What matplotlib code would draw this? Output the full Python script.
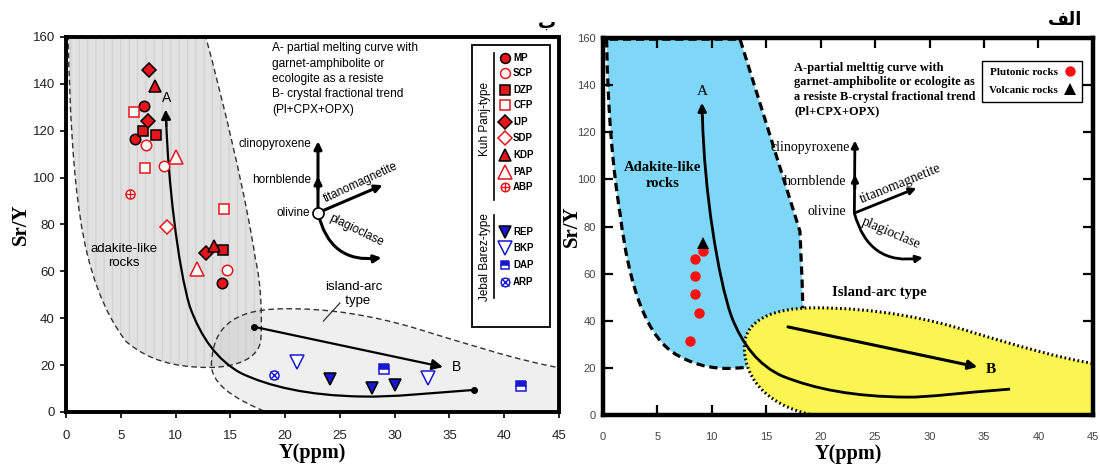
import matplotlib
matplotlib.use("Agg")
import matplotlib.pyplot as plt
from matplotlib.path import Path
from matplotlib.patches import PathPatch, Rectangle
from matplotlib import font_manager

_names = {f.name for f in font_manager.fontManager.ttflist}
NARROW = "Liberation Sans Narrow" if "Liberation Sans Narrow" in _names else "Liberation Sans"
SANS = "Liberation Sans"
SERIF = "Liberation Serif"

# ---------------- data : panel "ب" (Kuh Panj-type and Jebal Barez-type units)
mp_x, mp_y = [7.1, 6.3, 14.2], [130.6, 116.5, 55.0]
scp_x, scp_y = [7.3, 8.9, 14.7], [114.0, 105.0, 60.6]
dzp_x, dzp_y = [7.0, 8.2, 14.3], [120.0, 118.0, 69.0]
cfp_x, cfp_y = [6.2, 7.2, 14.4], [128.0, 104.0, 86.6]
ijp_x, ijp_y = [7.6, 7.5, 12.8], [146.0, 124.0, 68.0]
sdp_x, sdp_y = [9.2], [79.0]
kdp_x, kdp_y = [8.1, 13.5], [139.0, 71.0]
pap_x, pap_y = [10.0, 12.0], [109.0, 61.0]
abp_x, abp_y = [5.8], [93.0]
rep_x, rep_y = [24.1, 27.9, 30.0], [14.1, 10.2, 11.5]
bkp_x, bkp_y = [21.1, 33.0], [21.3, 14.5]
dap_x, dap_y = [29.0, 41.5], [18.3, 11.1]
arp_x, arp_y = [19.0], [15.8]

# ---------------- data : panel "الف"
plutonic_x = [9.2, 8.5, 8.5, 8.5, 8.8, 8.0]
plutonic_y = [69.6, 66.2, 59.0, 51.4, 43.3, 31.4]
volcanic_x = [9.2]
volcanic_y = [73.0]

x_ticks = [0, 5, 10, 15, 20, 25, 30, 35, 40, 45]
y_ticks = [0, 20, 40, 60, 80, 100, 120, 140, 160]

RED = "#e8141c"
BLUE = "#1818d0"

styles = {
    "MP": dict(marker="o", mfc=RED, mec="black", ms=7.5),
    "SCP": dict(marker="o", mfc="white", mec=RED, ms=7.5),
    "DZP": dict(marker="s", mfc=RED, mec="black", ms=7),
    "CFP": dict(marker="s", mfc="white", mec=RED, ms=7),
    "IJP": dict(marker="D", mfc=RED, mec="black", ms=7),
    "SDP": dict(marker="D", mfc="white", mec=RED, ms=7),
    "KDP": dict(marker="^", mfc=RED, mec="black", ms=9),
    "PAP": dict(marker="^", mfc="white", mec=RED, ms=10),
    "ABP": dict(marker="o", mfc="white", mec=RED, ms=6.5, over="+"),
    "REP": dict(marker="v", mfc=BLUE, mec="black", ms=9),
    "BKP": dict(marker="v", mfc="white", mec=BLUE, ms=10),
    "DAP": dict(marker="s", mfc=BLUE, mec=BLUE, ms=6.5, fillstyle="top",
                markerfacecoloralt="white"),
    "ARP": dict(marker="o", mfc="white", mec=BLUE, ms=6.5, over="x"),
}
groups = [("MP", mp_x, mp_y), ("SCP", scp_x, scp_y), ("DZP", dzp_x, dzp_y),
          ("CFP", cfp_x, cfp_y), ("IJP", ijp_x, ijp_y), ("SDP", sdp_x, sdp_y),
          ("KDP", kdp_x, kdp_y), ("PAP", pap_x, pap_y), ("ABP", abp_x, abp_y),
          ("REP", rep_x, rep_y), ("BKP", bkp_x, bkp_y), ("DAP", dap_x, dap_y),
          ("ARP", arp_x, arp_y)]


def draw_marker(ax, xs, ys, key, **kw):
    st = dict(styles[key])
    over = st.pop("over", None)
    ms = st.pop("ms")
    ax.plot(xs, ys, linestyle="none", markersize=ms, markeredgewidth=1.1,
            zorder=6, clip_on=False, **st, **kw)
    if over:
        ax.plot(xs, ys, linestyle="none", marker=over, markersize=ms * 0.95,
                color=st["mec"], markeredgewidth=1.0, zorder=7, clip_on=False, **kw)


def bezier(points):
    verts = [points[0]]
    codes = [Path.MOVETO]
    for p in points[1:]:
        verts.append(p)
        codes.append(Path.CURVE4)
    return verts, codes


fig = plt.figure(figsize=(11, 4.68), dpi=100)
axL = fig.add_axes([0.06, 0.1197, 0.4482, 0.8013])
axR = fig.add_axes([0.548, 0.1132, 0.4455, 0.8056])

# ======================= left panel =======================
ax = axL
ax.set_xlim(0, 45)
ax.set_ylim(0, 160)

# island-arc field
ia = [(18.8, -1), (15, 6), (13, 13), (13.3, 22),
      (13.5, 35), (15, 43.5), (19.5, 44),
      (24, 44.5), (28, 41), (31.7, 36),
      (36, 30), (41, 22), (46, 18)]
v, c = bezier(ia)
fill_v = v + [(46, -1), (18.8, -1)]
fill_c = c + [Path.LINETO, Path.CLOSEPOLY]
ax.add_patch(PathPatch(Path(fill_v, fill_c), facecolor="#efefef", lw=0, zorder=1))
ax.add_patch(PathPatch(Path(v, c), facecolor="none", edgecolor="#333333", lw=1.0,
                       linestyle=(0, (4, 2.5)), zorder=3))

# adakite field
ad = [(0.2, 161), (0.3, 130), (0.7, 100), (1.3, 83),
      (2.0, 60), (3.5, 42), (5.5, 30),
      (7.5, 22), (10, 19), (13, 19),
      (16, 19), (17.8, 24), (17.8, 32),
      (17.9, 42), (17.8, 55), (17.3, 65),
      (16.5, 90), (14.5, 130), (12.7, 161)]
v, c = bezier(ad)
ax.add_patch(PathPatch(Path(v + [(0.2, 161)], c + [Path.CLOSEPOLY]),
                       facecolor="#c4c4c4", alpha=0.5, lw=0, zorder=2))
ax.add_patch(PathPatch(Path(v + [(0.2, 161)], c + [Path.CLOSEPOLY]),
                       facecolor="none", edgecolor="#d2d2d2", lw=0, hatch="||", zorder=2))
ax.add_patch(PathPatch(Path(v, c), facecolor="none", edgecolor="#333333", lw=1.0,
                       linestyle=(0, (4, 2.5)), zorder=3))

# partial melting curve A
curveA = [(37.2, 9.4), (33, 8), (30, 6.3), (27, 6.6),
          (22, 7), (18.5, 11), (16, 16.5),
          (13.8, 22), (12.3, 32), (11.3, 45),
          (10.2, 62), (9.3, 100), (9.15, 124)]
v, c = bezier(curveA)
ax.add_patch(PathPatch(Path(v, c), facecolor="none", edgecolor="black", lw=1.6, zorder=4))
ax.annotate("", xy=(9.1, 129), xytext=(9.15, 122),
            arrowprops=dict(arrowstyle="-|>", color="black", lw=1.6,
                            mutation_scale=14, shrinkA=0, shrinkB=0), zorder=4)
ax.plot([37.2], [9.4], "o", color="black", ms=4, zorder=4)
ax.text(9.2, 134, "A", ha="center", va="center", fontsize=10, family=SANS, zorder=5)

# fractional crystallisation trend B
ax.annotate("", xy=(34.4, 19.2), xytext=(17.2, 36.3),
            arrowprops=dict(arrowstyle="-|>", color="black", lw=1.6,
                            mutation_scale=16, shrinkA=0, shrinkB=0), zorder=4)
ax.plot([17.2], [36.3], "o", color="black", ms=4, zorder=4)
ax.text(35.6, 19.3, "B", ha="center", va="center", fontsize=10, family=SANS)

# samples
for key, xs, ys in groups:
    draw_marker(ax, xs, ys, key)

# field labels
ax.text(5.3, 66.5, "adakite-like\nrocks", ha="center", va="center", fontsize=9.5,
        family=NARROW, linespacing=1.25, zorder=5)
ax.text(26.3, 50.5, "island-arc\n  type", ha="center", va="center", fontsize=9.5,
        family=NARROW, linespacing=1.2)
ax.plot([25.0, 23.5], [46.5, 38.8], color="#333333", lw=0.9)

# explanatory note
ax.text(18.8, 157.8, "A- partial melting curve with\ngarnet-amphibolite or\n"
        "ecologite as a resiste\nB- crystal fractional trend\n(Pl+CPX+OPX)",
        ha="left", va="top", fontsize=8.6, family=NARROW, linespacing=1.38)

# mineral vectors
o = (23.0, 85.0)
arrow_kw = dict(arrowstyle="-|>", color="black", lw=2.2, mutation_scale=11,
                shrinkA=0, shrinkB=0)
ax.annotate("", xy=(23.0, 115.5), xytext=o, arrowprops=arrow_kw, zorder=4)
ax.annotate("", xy=(23.0, 100.5), xytext=(23.0, 95), arrowprops=arrow_kw, zorder=4)
ax.annotate("", xy=(28.9, 96.8), xytext=o, arrowprops=arrow_kw, zorder=4)
ax.annotate("", xy=(28.8, 65.8), xytext=o,
            arrowprops=dict(arrow_kw, connectionstyle="arc3,rad=0.45"), zorder=4)
ax.plot([o[0]], [o[1]], "o", mfc="white", mec="black", ms=8, mew=1.2, zorder=6)
ax.text(22.4, 114.5, "clinopyroxene", ha="right", va="center", fontsize=8.5, family=NARROW)
ax.text(22.4, 98.8, "hornblende", ha="right", va="center", fontsize=8.5, family=NARROW)
ax.text(22.3, 84.9, "olivine", ha="right", va="center", fontsize=8.5, family=NARROW)
ax.text(26.9, 98.0, "titanomagnetite", ha="center", va="center", fontsize=8.5,
        family=NARROW, rotation=25, rotation_mode="anchor")
ax.text(26.5, 77.3, "plagioclase", ha="center", va="center", fontsize=8.5,
        family=NARROW, rotation=-26, rotation_mode="anchor")

# legend box with the two groups
ax.add_patch(Rectangle((0.824, 0.227), 0.158, 0.752, transform=ax.transAxes,
                       facecolor="white", edgecolor="black", lw=1.3, zorder=8))
legend_rows = [0.944, 0.904, 0.859, 0.819, 0.773, 0.731, 0.685, 0.640, 0.600,
               0.480, 0.437, 0.392, 0.347]
for (key, _, _), yy in zip(groups, legend_rows):
    st = dict(styles[key])
    over = st.pop("over", None)
    ms = st.pop("ms")
    ax.plot([0.890], [yy], linestyle="none", markersize=ms * 0.95, markeredgewidth=1.1,
            transform=ax.transAxes, zorder=9, clip_on=False, **st)
    if over:
        ax.plot([0.890], [yy], linestyle="none", marker=over, markersize=ms * 0.9,
                color=st["mec"], markeredgewidth=1.0, transform=ax.transAxes,
                zorder=10, clip_on=False)
    ax.text(0.907, yy, key, transform=ax.transAxes, ha="left", va="center",
            fontsize=7, fontweight="bold", family=SANS, zorder=10)
ax.text(0.849, 0.78, "Kuh Panj-type", transform=ax.transAxes, rotation=90,
        ha="center", va="center", fontsize=8.5, family=SANS, zorder=10)
ax.plot([0.868, 0.868], [0.565, 0.957], transform=ax.transAxes, color="black",
        lw=1.2, zorder=10)
ax.text(0.849, 0.413, "Jebal Barez-type", transform=ax.transAxes, rotation=90,
        ha="center", va="center", fontsize=8.5, family=SANS, zorder=10)
ax.plot([0.868, 0.868], [0.305, 0.525], transform=ax.transAxes, color="black",
        lw=1.2, zorder=10)

ax.set_xticks(x_ticks)
ax.set_yticks(y_ticks)
ax.tick_params(direction="out", length=4, width=1.2, labelsize=9.5,
               labelcolor="#222222")
ax.tick_params(axis="x", pad=9)
ax.tick_params(axis="y", pad=4)
for lab in ax.get_xticklabels() + ax.get_yticklabels():
    lab.set_family(SANS)
for s in ax.spines.values():
    s.set_linewidth(2.8)
    s.set_zorder(12)
ax.set_xlabel("Y(ppm)", fontsize=14.5, fontweight="bold", family=SERIF)
ax.set_ylabel("Sr/Y", fontsize=15, fontweight="bold", family=SERIF)
ax.xaxis.set_label_coords(0.5, -0.083)
ax.yaxis.set_label_coords(-0.071, 0.5)

# ======================= right panel =======================
ax = axR
ax.set_xlim(0, 45)
ax.set_ylim(0, 160)

# adakite field (blue)
blue_curve = [(0.35, 159.5), (0.45, 130), (0.9, 105), (1.6, 85),
              (2.4, 55), (4.0, 32), (7.0, 25),
              (9.5, 18.5), (12.0, 19.5), (13.5, 20.5)]
v, c = bezier(blue_curve)
bv = v + [(18.4, 40), (18.3, 57), (18.1, 78), (12.6, 159.5), (0.35, 159.5)]
bc = c + [Path.LINETO] * 4 + [Path.CLOSEPOLY]
ax.add_patch(PathPatch(Path(bv, bc), facecolor="#7fd7f7", edgecolor="black", lw=2.3,
                       linestyle=(0, (2.6, 1.5)), zorder=1))

# island-arc field (yellow)
yel = [(19.8, -0.5), (15.5, 3), (13.0, 14), (13.0, 29),
       (13.0, 40), (15.5, 45.5), (19.5, 45.5),
       (25.0, 45.5), (30.0, 41), (34.0, 35),
       (38.0, 29.5), (42.0, 24), (45.5, 21.5)]
v, c = bezier(yel)
ax.add_patch(PathPatch(Path(v + [(45.5, -0.5), (19.8, -0.5)],
                            c + [Path.LINETO, Path.CLOSEPOLY]),
                       facecolor="#faf550", lw=0, zorder=2))
ax.add_patch(PathPatch(Path(v, c), facecolor="none", edgecolor="black", lw=2.2,
                       linestyle=(0, (0.55, 0.9)), zorder=3))

# partial melting curve A
curveA_r = [(37.4, 11.0), (33, 9.5), (30, 7.5), (27.9, 7.6),
            (23, 7.8), (19.5, 11), (16.5, 16.5),
            (14.3, 21), (12.8, 30), (11.8, 42),
            (10.6, 58), (9.3, 95), (9.15, 127)]
v, c = bezier(curveA_r)
ax.add_patch(PathPatch(Path(v, c), facecolor="none", edgecolor="black", lw=2.0, zorder=4))
ax.annotate("", xy=(9.1, 132.5), xytext=(9.15, 125),
            arrowprops=dict(arrowstyle="-|>", color="black", lw=2.0,
                            mutation_scale=12, shrinkA=0, shrinkB=0), zorder=4)
ax.text(9.1, 137.5, "A", ha="center", va="center", fontsize=11, family=SERIF)

# fractional crystallisation trend B
ax.annotate("", xy=(34.4, 20.4), xytext=(17.0, 37.4),
            arrowprops=dict(arrowstyle="-|>", color="black", lw=2.2,
                            mutation_scale=13, shrinkA=0, shrinkB=0), zorder=4)
ax.text(35.6, 19.5, "B", ha="center", va="center", fontsize=11, fontweight="bold",
        family=SERIF)

# samples
ax.plot(plutonic_x, plutonic_y, "o", color="#ff1010", ms=7.5, mew=0, zorder=6,
        label="Plutonic rocks")
ax.plot(volcanic_x, volcanic_y, "^", color="black", ms=8.5, mew=0, zorder=7,
        label="Volcanic rocks")
leg = ax.legend(loc="upper right", bbox_to_anchor=(0.978, 0.94), markerfirst=False,
                frameon=True, fancybox=False, edgecolor="black", framealpha=1,
                prop=dict(family=SERIF, weight="bold", size=8), handletextpad=0.6,
                borderpad=0.6, labelspacing=0.75, handlelength=1.0, borderaxespad=0)
leg.get_frame().set_linewidth(1.0)
leg.set_zorder(10)

# field labels
ax.text(5.5, 101.5, "Adakite-like\nrocks", ha="center", va="center", fontsize=10.5,
        fontweight="bold", family=SERIF, linespacing=1.3)
ax.text(25.4, 52.2, "Island-arc type", ha="center", va="center", fontsize=10.5,
        fontweight="bold", family=SERIF)

# explanatory note
ax.text(17.6, 150.0, "A-partial melttig curve with\ngarnet-amphibolite or ecologite as\n"
        "a resiste B-crystal fractional trend\n(Pl+CPX+OPX)",
        ha="left", va="top", fontsize=8.9, fontweight="bold", family=SERIF,
        linespacing=1.28)

# mineral vectors
o = (23.1, 85.7)
arrow_kw = dict(arrowstyle="-|>", color="black", lw=2.0, mutation_scale=10,
                shrinkA=0, shrinkB=0)
ax.annotate("", xy=(23.15, 116.5), xytext=o, arrowprops=arrow_kw, zorder=4)
ax.annotate("", xy=(23.15, 102), xytext=(23.15, 96), arrowprops=arrow_kw, zorder=4)
ax.annotate("", xy=(28.8, 96.3), xytext=o, arrowprops=arrow_kw, zorder=4)
ax.annotate("", xy=(29.4, 66.8), xytext=o,
            arrowprops=dict(arrow_kw, connectionstyle="arc3,rad=0.45"), zorder=4)
ax.text(22.7, 113.5, "clinopyroxene", ha="right", va="center", fontsize=10, family=SERIF)
ax.text(22.4, 98.9, "hornblende", ha="right", va="center", fontsize=10, family=SERIF)
ax.text(22.3, 86.2, "olivine", ha="right", va="center", fontsize=10, family=SERIF)
ax.text(27.3, 98.3, "titanomagnetite", ha="center", va="center", fontsize=10,
        family=SERIF, rotation=22, rotation_mode="anchor")
ax.text(26.5, 77.0, "plagioclase", ha="center", va="center", fontsize=10,
        family=SERIF, rotation=-23, rotation_mode="anchor")

ax.set_xticks(x_ticks)
ax.set_yticks(y_ticks)
ax.tick_params(direction="in", length=7, width=1.6, top=True, right=True,
               labelsize=8, labelcolor="#444444")
ax.tick_params(axis="x", pad=12)
ax.tick_params(axis="y", pad=5)
for lab in ax.get_xticklabels() + ax.get_yticklabels():
    lab.set_family(SANS)
for s in ax.spines.values():
    s.set_linewidth(3.2)
    s.set_zorder(12)
ax.set_xlabel("Y(ppm)", fontsize=14.5, fontweight="bold", family=SERIF)
ax.set_ylabel("Sr/Y", fontsize=15, fontweight="bold", family=SERIF)
ax.xaxis.set_label_coords(0.5, -0.077)
ax.yaxis.set_label_coords(-0.043, 0.5)

# panel captions
fig.text(0.497, 0.952, "ب", ha="center", va="center", fontsize=13,
         fontweight="bold", family="DejaVu Sans")
fig.text(0.984, 0.958, "\ufed2\ufedf\ufe8d", ha="right", va="center", fontsize=13,
         fontweight="bold", family="DejaVu Sans")

fig.savefig("out.png", dpi=100)
